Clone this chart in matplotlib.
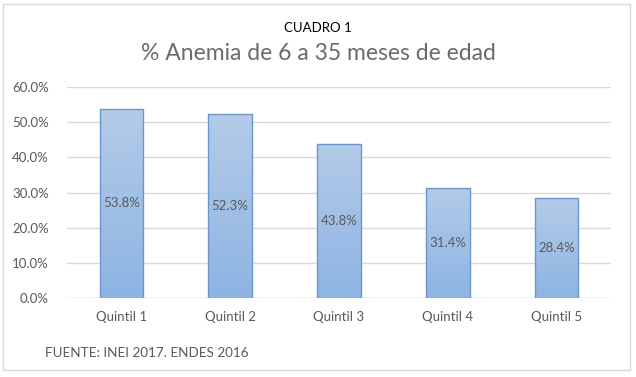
import matplotlib
matplotlib.use("Agg")
import matplotlib.pyplot as plt
import numpy as np
from matplotlib.patches import Rectangle

plt.rcParams['font.family'] = ['Lato', 'DejaVu Sans']

categorias = ['Quintil 1', 'Quintil 2', 'Quintil 3', 'Quintil 4', 'Quintil 5']
valores = [0.538, 0.523, 0.438, 0.314, 0.284]
ticks_y = [0.0, 0.1, 0.2, 0.3, 0.4, 0.5, 0.6]

gris = '#595959'

fig = plt.figure(figsize=(6.36, 3.77), dpi=100)
fig.patches.append(Rectangle((0.005, 0.018), 0.986, 0.972, transform=fig.transFigure,
                             fill=False, edgecolor='#d9d9d9', linewidth=1))

ax = fig.add_axes([0.1053, 0.2095, 0.8553, 0.5597])
x = np.arange(len(categorias))
barras = ax.bar(x, valores, width=0.40, color='none', edgecolor='#6b96cc',
                linewidth=1, zorder=3)

# degradado vertical en cada barra
grad = np.linspace(0, 1, 100).reshape(-1, 1)
cmap = matplotlib.colors.LinearSegmentedColormap.from_list('g', ['#8eb4e3', '#b3cbe8'])
for b in barras:
    x0, w, h = b.get_x(), b.get_width(), b.get_height()
    im = ax.imshow(grad, cmap=cmap, extent=[x0, x0 + w, 0, h], origin='lower',
                   aspect='auto', zorder=2)
    im.set_clip_path(b)

for xi, v in zip(x, valores):
    ax.text(xi, v / 2, f'{v*100:.1f}%', ha='center', va='center',
            fontsize=9.5, color=gris, zorder=4)

ax.set_xlim(-0.5, len(categorias) - 0.5)
ax.set_ylim(0, 0.6)
ax.set_yticks(ticks_y)
ax.set_yticklabels([f'{t*100:.1f}%' for t in ticks_y])
ax.set_xticks(x)
ax.set_xticklabels(categorias)
ax.tick_params(axis='both', length=0, colors=gris, labelsize=9.5)
ax.tick_params(axis='x', pad=9)
ax.tick_params(axis='y', pad=13)
ax.grid(axis='y', color='#d9d9d9', linewidth=1, zorder=0)
for s in ax.spines.values():
    s.set_visible(False)
ax.axhline(0, color='#d9d9d9', linewidth=1, zorder=1)

fig.text(0.5, 0.925, 'CUADRO 1', ha='center', va='center', fontsize=9.5, color='black')
fig.text(0.5, 0.858, '% Anemia de 6 a 35 meses de edad', ha='center', va='center',
         fontsize=16.5, color='#6b6b6b')
fig.text(0.071, 0.063, 'FUENTE: INEI 2017. ENDES 2016', ha='left', va='center',
         fontsize=9.7, color=gris)

fig.savefig('out.png', dpi=100)
